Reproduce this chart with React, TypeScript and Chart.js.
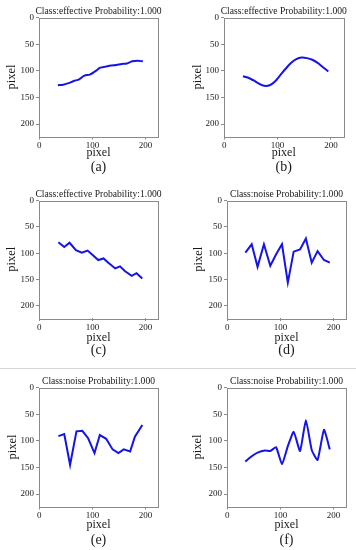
import React, { useEffect, useRef } from "react";
import { Chart, registerables } from "chart.js";

Chart.register(...registerables);

// ---- data ----
const xA = [35, 45, 55, 65, 75, 85, 95, 105, 115, 125, 135, 145, 155, 165, 175, 185, 195];
const yA = [127, 126, 123, 119, 116, 109, 107, 101, 94, 92, 90, 89, 87, 86, 82, 81, 82];

const xB = [35, 45, 55, 65, 75, 85, 95, 105, 115, 125, 135, 145, 155, 165, 175, 185, 195];
const yB = [110, 113, 118, 124, 128, 127, 120, 108, 96, 85, 78, 75, 76, 79, 85, 93, 101];

const xC = [36, 47, 57, 69, 80, 91, 101, 111, 121, 130, 143, 152, 161, 174, 183, 194];
const yC = [79, 88, 80, 94, 99, 95, 104, 113, 110, 118, 129, 125, 134, 143, 138, 148];

const xD = [34, 46, 57, 69, 81, 92, 103, 114, 125, 137, 148, 159, 170, 182, 193];
const yD = [99, 83, 126, 83, 124, 102, 83, 156, 97, 93, 72, 118, 96, 113, 118];

const xE = [36, 47, 58, 70, 81, 92, 104, 114, 126, 138, 149, 159, 171, 180, 194];
const yE = [91, 87, 145, 82, 81, 95, 123, 89, 96, 116, 123, 116, 120, 92, 70];

const xF = [34, 46, 57, 71, 81, 92, 103, 114, 125, 137, 148, 159, 170, 182, 193];
const yF = [139, 129, 122, 118, 119, 112, 144, 110, 83, 119, 61, 117, 136, 79, 116];

const yTicks = [0, 50, 100, 150, 200];
const xTicks = [0, 100, 200];
const axisLabel = "pixel";
const titles = [
  "Class:effective Probability:1.000",
  "Class:effective Probability:1.000",
  "Class:effective Probability:1.000",
  "Class:noise Probability:1.000",
  "Class:noise Probability:1.000",
  "Class:noise Probability:1.000",
];
const captions = ["(a)", "(b)", "(c)", "(d)", "(e)", "(f)"];

const seriesX = [xA, xB, xC, xD, xE, xF];
const seriesY = [yA, yB, yC, yD, yE, yF];
const tensions = [0.3, 0.35, 0, 0, 0, 0.15];

// layout: plot boxes [left, top, right, bottom], label offsets
const boxes = [
  [39, 17.5, 158, 136.5],
  [224, 17.5, 343.5, 136.5],
  [39, 200.5, 158, 318],
  [227, 200.5, 346, 318],
  [39, 387.5, 158, 506.5],
  [227, 387.5, 346, 506.5],
];
const yLabelDx = [-27, -26, -27, -28, -26, -29];
const xLabelDy = [16.5, 16.5, 20, 20, 18.5, 18.5];
const capDy = [31, 31, 32.5, 32.5, 34, 34];

const W = 356;
const H = 550;
const SERIF = "'Liberation Serif', 'Times New Roman', serif";

const decor = {
  id: "decor",
  afterDraw(chart: any, _args: any, opts: any) {
    const { ctx, chartArea } = chart;
    const { left, top, right, bottom } = chartArea;
    ctx.save();
    ctx.strokeStyle = "#8a8a8a";
    ctx.lineWidth = 1;
    ctx.strokeRect(Math.round(left) + 0.5, Math.round(top) + 0.5, Math.round(right - left), Math.round(bottom - top));
    ctx.fillStyle = "#1a1a1a";
    ctx.textAlign = "center";
    ctx.textBaseline = "middle";
    const cx = (left + right) / 2;
    ctx.font = `9.6px ${SERIF}`;
    ctx.fillText(opts.title, cx, top - 6);
    ctx.font = `12px ${SERIF}`;
    ctx.fillText(opts.xlabel, cx, bottom + opts.xdy);
    ctx.save();
    ctx.translate(left + opts.ydx, (top + bottom) / 2);
    ctx.rotate(-Math.PI / 2);
    ctx.font = `12.5px ${SERIF}`;
    ctx.fillText(opts.xlabel, 0, 0);
    ctx.restore();
    ctx.font = `14px ${SERIF}`;
    ctx.fillText(opts.caption, cx, bottom + opts.cdy);
    ctx.restore();
  },
};

function Panel({ idx }: { idx: number }) {
  const ref = useRef<HTMLCanvasElement | null>(null);
  useEffect(() => {
    const [L, T, R, B] = boxes[idx];
    const yW = 30;
    const xH = 12;
    const chart = new Chart(ref.current as HTMLCanvasElement, {
      type: "line",
      data: {
        datasets: [
          {
            data: seriesX[idx].map((x, i) => ({ x, y: seriesY[idx][i] })),
            borderColor: "#1414e8",
            borderWidth: 2,
            pointRadius: 0,
            tension: tensions[idx],
            fill: false,
          },
        ],
      },
      options: {
        responsive: false,
        animation: false,
        events: [],
        layout: {
          padding: { left: L - yW, top: T, right: W - R, bottom: H - B - xH },
        },
        plugins: {
          legend: { display: false },
          tooltip: { enabled: false },
          title: { display: false },
          decor: {
            title: titles[idx],
            caption: captions[idx],
            xlabel: axisLabel,
            ydx: yLabelDx[idx],
            xdy: xLabelDy[idx],
            cdy: capDy[idx],
          },
        } as any,
        scales: {
          x: {
            type: "linear",
            min: -0.5,
            max: 223.5,
            afterBuildTicks: (s: any) => {
              s.ticks = xTicks.map((v) => ({ value: v }));
            },
            afterFit: (s: any) => {
              s.height = xH;
            },
            border: { display: false },
            grid: { drawOnChartArea: false, drawTicks: true, tickLength: 3, color: "#8a8a8a" },
            ticks: {
              autoSkip: false,
              maxRotation: 0,
              padding: 1,
              color: "#1a1a1a",
              font: { family: SERIF, size: 9 },
            },
          },
          y: {
            type: "linear",
            reverse: true,
            min: -0.5,
            max: 223.5,
            afterBuildTicks: (s: any) => {
              s.ticks = yTicks.map((v) => ({ value: v }));
            },
            afterFit: (s: any) => {
              s.width = yW;
            },
            border: { display: false },
            grid: { drawOnChartArea: false, drawTicks: true, tickLength: 3, color: "#8a8a8a" },
            ticks: {
              autoSkip: false,
              padding: 2,
              color: "#1a1a1a",
              font: { family: SERIF, size: 9 },
            },
          },
        },
      },
      plugins: [decor],
    });
    return () => chart.destroy();
  }, [idx]);
  return (
    <canvas
      ref={ref}
      width={W}
      height={H}
      style={{ position: "absolute", left: 0, top: 0, width: W, height: H }}
    />
  );
}

export default function App() {
  return (
    <div
      style={{
        position: "absolute",
        left: 0,
        top: 0,
        width: W,
        height: H,
        background: "#ffffff",
        overflow: "hidden",
      }}
    >
      <div
        style={{
          position: "absolute",
          left: 0,
          top: 368,
          width: W,
          height: 1,
          background: "#d4d4d4",
        }}
      />
      {[0, 1, 2, 3, 4, 5].map((i) => (
        <Panel key={i} idx={i} />
      ))}
    </div>
  );
}
